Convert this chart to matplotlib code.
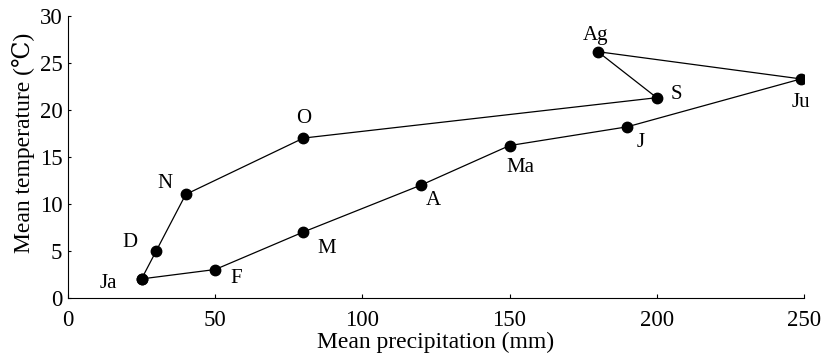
import matplotlib.pyplot as plt

# Climograph: mean monthly precipitation vs. mean temperature
months = ['Ja', 'F', 'M', 'A', 'Ma', 'J', 'Ju', 'Ag', 'S', 'O', 'N', 'D']
precip = [25, 50, 80, 120, 150, 190, 249, 180, 200, 80, 40, 30]
temp = [2, 3, 7, 12, 16.2, 18.2, 23.3, 26.2, 21.3, 17, 11, 5]

# label offsets in points (dx, dy)
offsets = [(-24, -3), (15, -6.5), (17, -12), (9, -11), (7.5, -16), (10, -11),
           (0, -17), (-2, 12), (14.5, 2.5), (0, 14), (-15, 8), (-19, 6)]

plt.rcParams['font.family'] = ['Liberation Serif', 'DejaVu Serif', 'Noto Sans CJK SC']

fig = plt.figure(figsize=(8.21, 3.59), dpi=100)
ax = fig.add_axes([0.0828, 0.1708, 0.8964, 0.7846])

# close the loop back to January
ax.plot(precip + precip[:1], temp + temp[:1], color='black', lw=0.9,
        marker='o', markersize=7.5, zorder=3)

for m, x, y, off in zip(months, precip, temp, offsets):
    ax.annotate(m, (x, y), xytext=off, textcoords='offset points',
                ha='center', va='center', fontsize=15)

ax.set_xlim(0, 250)
ax.set_ylim(0, 30)
ax.set_xticks([0, 50, 100, 150, 200, 250])
ax.set_yticks([0, 5, 10, 15, 20, 25, 30])
ax.spines['top'].set_visible(False)
ax.spines['right'].set_visible(False)
ax.tick_params(axis='x', direction='in', length=3, pad=9, labelsize=16.5)
ax.tick_params(axis='y', direction='in', length=2, pad=4, labelsize=16.5)

ax.set_xlabel('Mean precipitation (mm)', fontsize=17)
ax.set_ylabel('Mean temperature (℃)', fontsize=17)
ax.xaxis.set_label_coords(0.5, -0.122)
ax.yaxis.set_label_coords(-0.045, 0.55)

fig.savefig('out.png', dpi=100)
